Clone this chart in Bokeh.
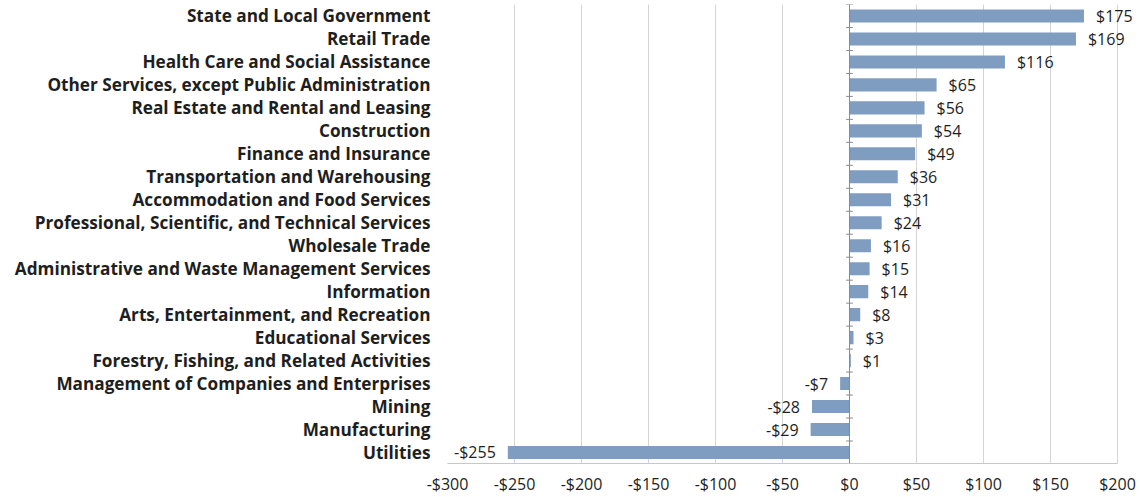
from bokeh.plotting import figure
from bokeh.models import Range1d, FixedTicker, Span, ColumnDataSource, LabelSet
from bokeh.core.properties import value
from bokeh.embed import file_html
from bokeh.resources import INLINE

categories = [
    "State and Local Government",
    "Retail Trade",
    "Health Care and Social Assistance",
    "Other Services, except Public Administration",
    "Real Estate and Rental and Leasing",
    "Construction",
    "Finance and Insurance",
    "Transportation and Warehousing",
    "Accommodation and Food Services",
    "Professional, Scientific, and Technical Services",
    "Wholesale Trade",
    "Administrative and Waste Management Services",
    "Information",
    "Arts, Entertainment, and Recreation",
    "Educational Services",
    "Forestry, Fishing, and Related Activities",
    "Management of Companies and Enterprises",
    "Mining",
    "Manufacturing",
    "Utilities",
]
values = [175, 169, 116, 65, 56, 54, 49, 36, 31, 24, 16, 15, 14, 8, 3, 1, -7, -28, -29, -255]
value_labels = ["$175", "$169", "$116", "$65", "$56", "$54", "$49", "$36", "$31", "$24",
                "$16", "$15", "$14", "$8", "$3", "$1", "-$7", "-$28", "-$29", "-$255"]
x_ticks = [-300, -250, -200, -150, -100, -50, 0, 50, 100, 150, 200]
x_tick_labels = ["-$300", "-$250", "-$200", "-$150", "-$100", "-$50", "$0", "$50", "$100", "$150", "$200"]

n = len(categories)
ypos = [n - 1 - i for i in range(n)]

BAR = "#7f9dc0"
FONT = "Open Sans"
TXT = "#1e1e1e"

W, LEFT, AXIS_PX = 1140, 447, 670          # axis span (-300..200) drawn over 670 px
x_lo, x_hi = x_ticks[0], x_ticks[-1]
x_end = x_hi + (W - LEFT - AXIS_PX) * (x_hi - x_lo) / AXIS_PX   # room for labels on the right

p = figure(width=W, height=497, output_backend="svg", toolbar_location=None,
           x_range=Range1d(x_lo, x_end), y_range=Range1d(-0.48, n - 1 + 0.5),
           min_border_left=LEFT, min_border_right=0, min_border_top=4, min_border_bottom=30)
p.outline_line_color = None
p.background_fill_color = "white"

# grid
p.xgrid.ticker = FixedTicker(ticks=x_ticks)
p.xgrid.grid_line_color = "#d4d4d4"
p.xgrid.grid_line_width = 1
p.ygrid.grid_line_color = None

src = ColumnDataSource(dict(y=ypos, v=values, lab=value_labels, cat=categories))
p.hbar(y="y", right="v", left=0, height=0.57, source=src, fill_color=BAR, line_color=None)

# zero axis line and ticks
p.add_layout(Span(location=0, dimension="height", line_color="#8a8a8a", line_width=1))
bounds = [i - 0.5 for i in range(n + 1)]
p.segment(x0=[-2.5] * len(bounds), x1=[2.5] * len(bounds), y0=bounds, y1=bounds,
          line_color="#8a8a8a", line_width=1)

pos = [i for i in range(n) if values[i] >= 0]
neg = [i for i in range(n) if values[i] < 0]
src_pos = ColumnDataSource(dict(x=[values[i] for i in pos], y=[ypos[i] for i in pos],
                                t=[value_labels[i] for i in pos]))
src_neg = ColumnDataSource(dict(x=[values[i] for i in neg], y=[ypos[i] for i in neg],
                                t=[value_labels[i] for i in neg]))
p.add_layout(LabelSet(x="x", y="y", text="t", source=src_pos, text_align="left",
                      text_baseline="middle", x_offset=12, text_font=value(FONT),
                      text_font_size="16px", text_color=TXT))
p.add_layout(LabelSet(x="x", y="y", text="t", source=src_neg, text_align="right",
                      text_baseline="middle", x_offset=-12, text_font=value(FONT),
                      text_font_size="16px", text_color=TXT))

# x axis
p.xaxis.ticker = FixedTicker(ticks=x_ticks)
p.xaxis.bounds = (x_lo, x_hi)
p.xaxis.major_label_overrides = {t: l for t, l in zip(x_ticks, x_tick_labels)}
p.xaxis.axis_line_color = "#c8c8c8"
p.xaxis.major_tick_line_color = None
p.xaxis.minor_tick_line_color = None
p.xaxis.major_label_text_font = FONT
p.xaxis.major_label_text_font_size = "16px"
p.xaxis.major_label_text_color = TXT
p.xaxis.major_label_standoff = 3

# y axis
p.yaxis.ticker = FixedTicker(ticks=ypos)
p.yaxis.major_label_overrides = {y: c for y, c in zip(ypos, categories)}
p.yaxis.axis_line_color = None
p.yaxis.major_tick_line_color = None
p.yaxis.minor_tick_line_color = None
p.yaxis.major_label_text_font = FONT
p.yaxis.major_label_text_font_style = "bold"
p.yaxis.major_label_text_font_size = "17.2px"
p.yaxis.major_label_text_color = TXT
p.yaxis.major_label_standoff = 11

open("out.html", "w").write(file_html(p, INLINE))
